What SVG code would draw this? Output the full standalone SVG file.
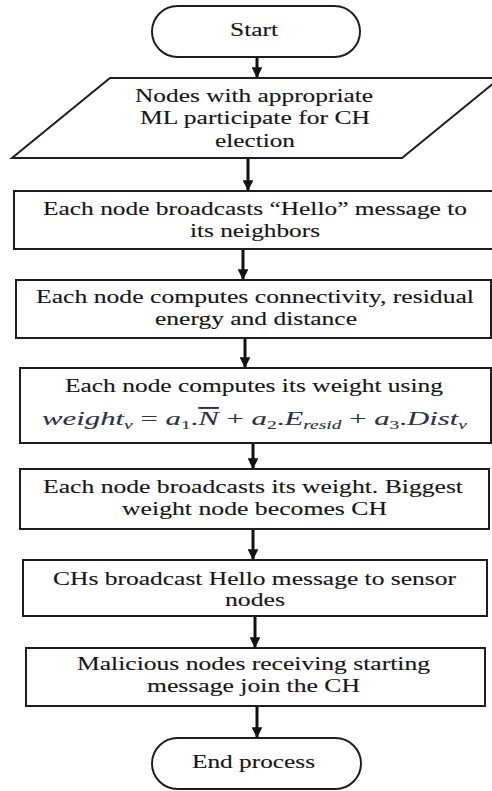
<svg xmlns="http://www.w3.org/2000/svg" width="492" height="791" viewBox="0 0 492 791">
<style>
.shape{fill:#fff;stroke:#1e1e1e;stroke-width:2}
text{font-family:'Liberation Serif','DejaVu Serif','Noto Serif',serif;font-size:19px}
.t{fill:#161616;stroke:#161616;stroke-width:0.12}
.m{fill:#2c3245;stroke:#2c3245;stroke-width:0.1;font-style:italic}
.sub{font-size:12px}
.up{font-style:normal}
.conn{stroke:#111;stroke-width:3;fill:none}
</style>
<defs>
<marker id="ah" viewBox="0 0 10 10" refX="9" refY="5" markerWidth="3.6" markerHeight="3.6" orient="auto" markerUnits="strokeWidth">
<path d="M0,0 L10,5 L0,10 z" fill="#111"/>
</marker>
</defs>
<rect width="492" height="791" fill="#fff"/>
<g id="connectors">
<line class="conn" x1="257" y1="57" x2="257" y2="77" marker-end="url(#ah)"/>
<line class="conn" x1="248" y1="158" x2="248" y2="190" marker-end="url(#ah)"/>
<line class="conn" x1="243" y1="249" x2="243" y2="279" marker-end="url(#ah)"/>
<line class="conn" x1="245" y1="338" x2="245" y2="367" marker-end="url(#ah)"/>
<line class="conn" x1="253" y1="443" x2="253" y2="468" marker-end="url(#ah)"/>
<line class="conn" x1="253" y1="529" x2="253" y2="559" marker-end="url(#ah)"/>
<line class="conn" x1="255" y1="616" x2="255" y2="647" marker-end="url(#ah)"/>
<line class="conn" x1="257" y1="706" x2="257" y2="737" marker-end="url(#ah)"/>
</g>
<g id="start">
<rect class="shape" x="152" y="6" width="208" height="51" rx="25.5"/>
<text class="t" x="230" y="36" textLength="48" lengthAdjust="spacingAndGlyphs">Start</text>
</g>
<g id="input">
<polygon class="shape" points="110,78 500,78 402,158 12,158"/>
<text class="t" x="135" y="102" textLength="238" lengthAdjust="spacingAndGlyphs">Nodes with appropriate</text>
<text class="t" x="140" y="124" textLength="230" lengthAdjust="spacingAndGlyphs">ML participate for CH</text>
<text class="t" x="215" y="147" textLength="80" lengthAdjust="spacingAndGlyphs">election</text>
</g>
<g id="hello">
<rect class="shape" x="14" y="191" width="482" height="58"/>
<text class="t" x="43" y="215" textLength="424" lengthAdjust="spacingAndGlyphs">Each node broadcasts “Hello” message to</text>
<text class="t" x="190" y="237" textLength="130" lengthAdjust="spacingAndGlyphs">its neighbors</text>
</g>
<g id="compute">
<rect class="shape" x="16" y="280" width="475" height="58"/>
<text class="t" x="36" y="303" textLength="438" lengthAdjust="spacingAndGlyphs">Each node computes connectivity, residual</text>
<text class="t" x="155" y="325" textLength="202" lengthAdjust="spacingAndGlyphs">energy and distance</text>
</g>
<g id="weight">
<rect class="shape" x="20" y="368" width="471" height="75"/>
<text class="t" x="65" y="392" textLength="378" lengthAdjust="spacingAndGlyphs">Each node computes its weight using</text>
<text class="m" x="42" y="425" textLength="425" lengthAdjust="spacingAndGlyphs">weight<tspan class="sub" dy="4">v</tspan><tspan class="up" dy="-4"> = </tspan>a<tspan class="sub up" dy="4">1</tspan><tspan class="up" dy="-4">.</tspan><tspan text-decoration="overline">N</tspan><tspan class="up"> + </tspan>a<tspan class="sub up" dy="4">2</tspan><tspan class="up" dy="-4">.</tspan>E<tspan class="sub" dy="4">resid</tspan><tspan class="up" dy="-4"> + </tspan>a<tspan class="sub up" dy="4">3</tspan><tspan class="up" dy="-4">.</tspan>Dist<tspan class="sub" dy="4">v</tspan></text>
</g>
<g id="elect">
<rect class="shape" x="20" y="469" width="469" height="60"/>
<text class="t" x="43" y="493" textLength="420" lengthAdjust="spacingAndGlyphs">Each node broadcasts its weight. Biggest</text>
<text class="t" x="122" y="515" textLength="265" lengthAdjust="spacingAndGlyphs">weight node becomes CH</text>
</g>
<g id="chhello">
<rect class="shape" x="23" y="560" width="464" height="56"/>
<text class="t" x="53" y="585" textLength="403" lengthAdjust="spacingAndGlyphs">CHs broadcast Hello message to sensor</text>
<text class="t" x="225" y="606" textLength="60" lengthAdjust="spacingAndGlyphs">nodes</text>
</g>
<g id="malicious">
<rect class="shape" x="26" y="648" width="459" height="58"/>
<text class="t" x="77" y="670" textLength="353" lengthAdjust="spacingAndGlyphs">Malicious nodes receiving starting</text>
<text class="t" x="147" y="692" textLength="213" lengthAdjust="spacingAndGlyphs">message join the CH</text>
</g>
<g id="end">
<rect class="shape" x="152" y="738" width="209" height="51" rx="25.5"/>
<text class="t" x="192" y="768" textLength="123" lengthAdjust="spacingAndGlyphs">End process</text>
</g>
</svg>
